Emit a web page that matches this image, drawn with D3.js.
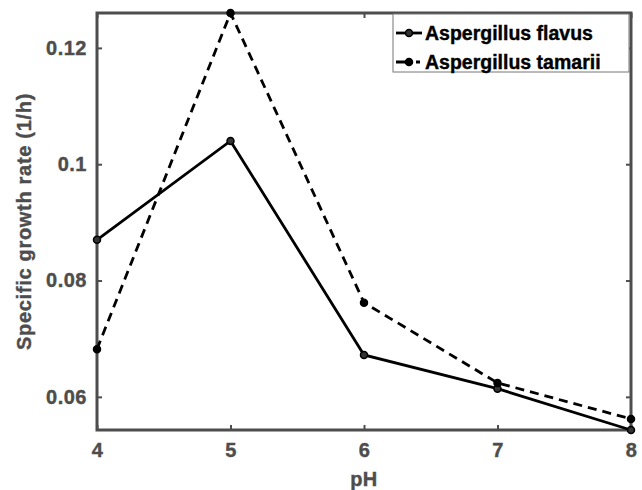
<!DOCTYPE html>
<html>
<head>
<meta charset="utf-8">
<script src="https://cdn.jsdelivr.net/npm/d3@7"></script>
<style>
  body { margin: 0; background: #fff; }
  text { font-family: "Liberation Sans", Arial, sans-serif; font-weight: bold; stroke-width: 0.4px; }
</style>
</head>
<body>
<div id="chart"></div>
<script>
// values
var ph = [4, 5, 6, 7, 8];
var flavus = [0.087, 0.104, 0.0672, 0.0614, 0.0543];
var tamarii = [0.0682, 0.126, 0.0762, 0.0624, 0.0562];
var xTicks = [4, 5, 6, 7, 8];
var yTicks = [0.06, 0.08, 0.1, 0.12];
var seriesNames = ["Aspergillus flavus", "Aspergillus tamarii"];

var margin = {top: 13, right: 11, bottom: 60, left: 97},
    width = 642 - margin.left - margin.right,
    height = 490 - margin.top - margin.bottom;

var svg = d3.select("#chart")
  .append("svg")
    .attr("width", 642)
    .attr("height", 490)
  .append("g")
    .attr("transform", "translate(" + margin.left + "," + margin.top + ")");

var x = d3.scaleLinear()
  .domain(d3.extent(ph))
  .range([0, width]);

var y = d3.scaleLinear()
  .domain([d3.min(flavus.concat(tamarii)), d3.max(flavus.concat(tamarii))])
  .range([height, 0]);

var axisColor = "#4d4d4d";

// axes with inward ticks, on all four sides (box on)
function styleAxis(g) {
  g.select(".domain").remove();
  g.selectAll(".tick line").attr("stroke", axisColor).attr("stroke-width", 2);
  g.selectAll(".tick text")
    .attr("fill", axisColor)
    .attr("stroke", axisColor)
    .style("font-size", "20px")
    .style("letter-spacing", "0.5px");
}

svg.append("g")
  .attr("transform", "translate(0," + height + ")")
  .call(d3.axisBottom(x).tickValues(xTicks).tickFormat(d3.format("d")).tickSizeInner(-5).tickSizeOuter(0).tickPadding(13))
  .call(styleAxis);

svg.append("g")
  .call(d3.axisTop(x).tickValues(xTicks).tickSizeInner(-5).tickSizeOuter(0).tickFormat(""))
  .call(styleAxis);

svg.append("g")
  .call(d3.axisLeft(y).tickValues(yTicks).tickFormat(function(d) { return String(+d.toFixed(2)); }).tickSizeInner(-5).tickSizeOuter(0).tickPadding(10))
  .call(styleAxis);

svg.append("g")
  .attr("transform", "translate(" + width + ",0)")
  .call(d3.axisRight(y).tickValues(yTicks).tickSizeInner(-5).tickSizeOuter(0).tickFormat(""))
  .call(styleAxis);

svg.append("rect")
  .attr("width", width)
  .attr("height", height)
  .attr("fill", "none")
  .attr("stroke", axisColor)
  .attr("stroke-width", 3);

// lines
var line = d3.line()
  .x(function(d) { return x(d[0]); })
  .y(function(d) { return y(d[1]); });

var series = [
  {name: seriesNames[0], values: d3.zip(ph, flavus), dash: null},
  {name: seriesNames[1], values: d3.zip(ph, tamarii), dash: "9,6"}
];

series.forEach(function(s) {
  svg.append("path")
    .datum(s.values)
    .attr("d", line)
    .attr("fill", "none")
    .attr("stroke", "#000")
    .attr("stroke-width", 2.8)
    .attr("stroke-dasharray", s.dash);

  svg.append("g")
    .selectAll("circle")
    .data(s.values)
    .enter()
    .append("circle")
      .attr("cx", function(d) { return x(d[0]); })
      .attr("cy", function(d) { return y(d[1]); })
      .attr("r", 3.5)
      .attr("fill", s.dash ? "#000" : "#333")
      .attr("stroke", "#000")
      .attr("stroke-width", 1.5);
});

// axis labels
svg.append("text")
  .attr("transform", "rotate(-90)")
  .attr("x", -height / 2)
  .attr("y", 31 - margin.left)
  .attr("text-anchor", "middle")
  .attr("fill", axisColor)
  .attr("stroke", axisColor)
  .style("font-size", "20px")
  .style("letter-spacing", "0.7px")
  .text("Specific growth rate (1/h)");

svg.append("text")
  .attr("x", width / 2)
  .attr("y", height + 56)
  .attr("text-anchor", "middle")
  .attr("fill", axisColor)
  .attr("stroke", axisColor)
  .style("font-size", "20px")
  .style("letter-spacing", "0.5px")
  .text("pH");

// legend
var legend = svg.append("g")
  .attr("transform", "translate(" + (x(6) + 29) + ",1)");

legend.append("rect")
  .attr("width", 236)
  .attr("height", 58)
  .attr("fill", "#fff")
  .attr("stroke", "#777")
  .attr("stroke-width", 1);

series.forEach(function(s, i) {
  var row = legend.append("g").attr("transform", "translate(0," + (19 + i * 29) + ")");
  row.append("line")
    .attr("x1", 3).attr("x2", 29)
    .attr("stroke", "#000")
    .attr("stroke-width", 2.8)
    .attr("stroke-dasharray", s.dash ? "11,9,4,20" : null);
  row.append("circle")
    .attr("cx", 16).attr("r", 3.5)
    .attr("fill", s.dash ? "#000" : "#333")
    .attr("stroke", "#000")
    .attr("stroke-width", 1.5);
  row.append("text")
    .attr("x", 32)
    .attr("dy", "0.35em")
    .attr("fill", "#000")
    .attr("stroke", "#000")
    .style("font-size", "19.5px")
    .text(s.name);
});
</script>
</body>
</html>
